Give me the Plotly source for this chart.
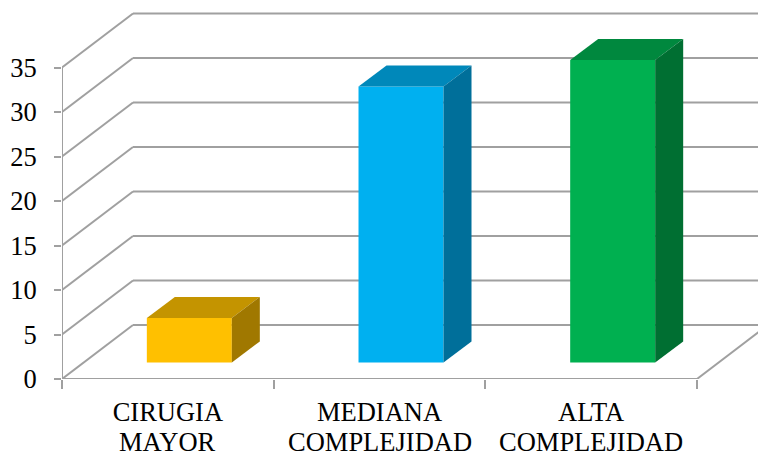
import plotly.graph_objects as go

category_first_lines = ["CIRUGIA", "MEDIANA", "ALTA"]
category_second_lines = ["MAYOR", "COMPLEJIDAD", "COMPLEJIDAD"]
values = [5, 31, 34]
y_ticks = [0, 5, 10, 15, 20, 25, 30, 35]
front_colors = ["#FFC000", "#00B0F0", "#00B050"]
top_colors = ["#C49400", "#0088BA", "#00883E"]
side_colors = ["#A07800", "#006F9A", "#006F32"]

W, H = 758, 454
L, B = 62, 75
PX_X = 211.67
PX_Y = 8.9
X_MAX = (W - L) / PX_X
Y_MAX = (H - B) / PX_Y
WALL_DX, WALL_DY = 71 / PX_X, 54 / PX_Y
BAR_W = 85 / PX_X
BAR_SHIFT = 21.5 / PX_X
BAR_LIFT = 16.5 / PX_Y
BAR_DX, BAR_DY = 28 / PX_X, 21 / PX_Y
GRID = "#A0A0A0"
FONT = "Liberation Serif"
FONT_SIZE = 26.5

centers = [i + 0.5 for i in range(len(values))]
line = dict(color=GRID, width=2)
shapes = []
for t in y_ticks:
    xs = [0, WALL_DX, X_MAX + 1]
    ys = [t, t + WALL_DY, t + WALL_DY]
    shapes.append(dict(type="line", x0=xs[0], y0=ys[0], x1=xs[1], y1=ys[1], line=line, layer="below"))
    shapes.append(dict(type="line", x0=xs[1], y0=ys[1], x1=xs[2], y1=ys[2], line=line, layer="below"))
shapes.append(dict(type="line", x0=0, y0=0, x1=0, y1=y_ticks[-1], line=line, layer="below"))
shapes.append(dict(type="line", x0=0, y0=0, x1=3, y1=0, line=line, layer="below"))
shapes.append(dict(type="line", x0=3, y0=0, x1=3 + WALL_DX, y1=WALL_DY, line=line, layer="below"))

fig = go.Figure()
fig.add_trace(go.Bar(
    x=[c + BAR_SHIFT for c in centers], y=values, base=BAR_LIFT, width=BAR_W,
    marker=dict(color=front_colors, line=dict(width=0)),
    hoverinfo="skip", showlegend=False,
))
for c, v, top, side in zip(centers, values, top_colors, side_colors):
    x0 = c + BAR_SHIFT - BAR_W / 2
    x1 = c + BAR_SHIFT + BAR_W / 2
    y0 = BAR_LIFT
    y1 = BAR_LIFT + v
    fig.add_trace(go.Scatter(
        x=[x0, x1, x1 + BAR_DX, x0 + BAR_DX, x0],
        y=[y1, y1, y1 + BAR_DY, y1 + BAR_DY, y1],
        mode="lines", fill="toself", fillcolor=top, line=dict(width=0),
        hoverinfo="skip", showlegend=False,
    ))
    fig.add_trace(go.Scatter(
        x=[x1, x1 + BAR_DX, x1 + BAR_DX, x1, x1],
        y=[y0, y0 + BAR_DY, y1 + BAR_DY, y1, y0],
        mode="lines", fill="toself", fillcolor=side, line=dict(width=0),
        hoverinfo="skip", showlegend=False,
    ))

annotations = [
    dict(x=c, xref="x", y=0, yref="paper", yanchor="middle", xanchor="center",
         yshift=-63, text=t, showarrow=False,
         font=dict(family=FONT, size=FONT_SIZE, color="#000000"))
    for c, t in zip(centers, category_second_lines)
]

fig.update_layout(
    width=W, height=H, autosize=False,
    margin=dict(l=L, r=0, t=0, b=B, pad=0),
    paper_bgcolor="white", plot_bgcolor="white",
    showlegend=False, shapes=shapes, annotations=annotations,
    font=dict(family=FONT, size=FONT_SIZE, color="#000000"),
    xaxis=dict(
        range=[0, X_MAX], tickmode="array", tickvals=centers, ticktext=category_first_lines,
        showgrid=False, zeroline=False, showline=False, ticks="", automargin=False,
        tickfont=dict(family=FONT, size=FONT_SIZE, color="#000000"), tickangle=0,
        minor=dict(tickmode="array", tickvals=[0, 1, 2, 3], ticks="outside",
                   ticklen=9, tickwidth=2, tickcolor=GRID, showgrid=False),
        ticklabelstandoff=14,
    ),
    yaxis=dict(
        range=[0, Y_MAX], tickmode="array", tickvals=y_ticks, automargin=False,
        showgrid=False, zeroline=False, showline=False,
        ticks="outside", ticklen=7, tickwidth=2, tickcolor=GRID,
        tickfont=dict(family=FONT, size=FONT_SIZE, color="#000000"),
        ticklabelstandoff=12,
    ),
)
fig.write_html("out.html", config=dict(displayModeBar=False),
               post_script="document.body.style.margin='0';document.documentElement.style.overflow='hidden';")
